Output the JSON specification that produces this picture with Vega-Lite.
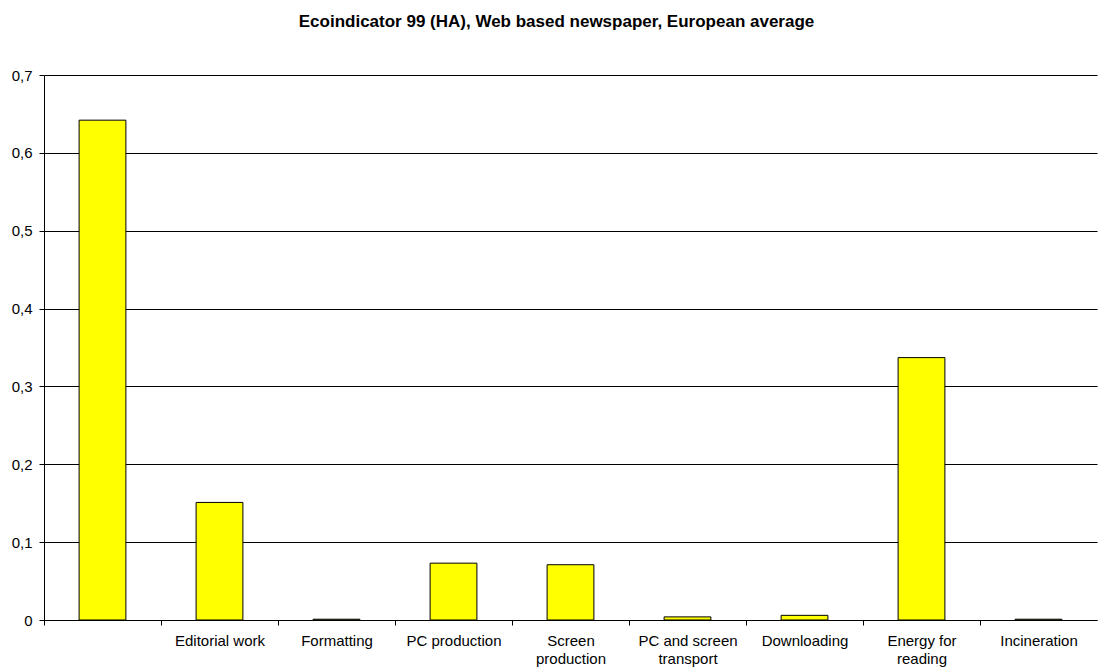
{
  "$schema": "https://vega.github.io/schema/vega-lite/v6.json",
  "autosize": "none",
  "padding": {"left": 44, "top": 75, "right": 1, "bottom": 48},
  "width": 1053,
  "height": 545,
  "background": "white",
  "title": {
    "text": "Ecoindicator 99 (HA), Web based newspaper, European average",
    "font": "Liberation Sans",
    "fontSize": 17,
    "fontWeight": "bold",
    "color": "black",
    "anchor": "middle",
    "frame": "group",
    "dx": -14,
    "offset": 37
  },
  "data": {
    "values": [
      {"stage": "", "value": 0.642},
      {"stage": "Editorial work", "value": 0.151},
      {"stage": "Formatting", "value": 0.001},
      {"stage": "PC production", "value": 0.073},
      {"stage": "Screen production", "value": 0.071},
      {"stage": "PC and screen transport", "value": 0.004},
      {"stage": "Downloading", "value": 0.006},
      {"stage": "Energy for reading", "value": 0.337},
      {"stage": "Incineration", "value": 0.001}
    ]
  },
  "mark": {"type": "bar", "color": "#FFFF00", "stroke": "black", "strokeWidth": 1},
  "encoding": {
    "x": {
      "field": "stage",
      "type": "nominal",
      "sort": null,
      "scale": {"paddingInner": 0.6, "paddingOuter": 0.3},
      "axis": {
        "title": null,
        "labelAngle": 0,
        "labelFont": "Liberation Sans",
        "labelFontSize": 15,
        "labelColor": "black",
        "labelPadding": 8,
        "labelLineHeight": 18,
        "tickOffset": -58.5,
        "labelOffset": 58.5,
        "tickColor": "black",
        "tickSize": 5,
        "domainColor": "black",
        "grid": false,
        "labelExpr": "datum.label == 'Screen production' ? ['Screen', 'production'] : datum.label == 'PC and screen transport' ? ['PC and screen', 'transport'] : datum.label == 'Energy for reading' ? ['Energy for', 'reading'] : datum.label"
      }
    },
    "y": {
      "field": "value",
      "type": "quantitative",
      "scale": {"domain": [0, 0.7], "nice": false},
      "axis": {
        "title": null,
        "values": [0, 0.1, 0.2, 0.3, 0.4, 0.5, 0.6, 0.7],
        "labelExpr": "replace(format(datum.value, '.1~f'), '.', ',')",
        "labelFont": "Liberation Sans",
        "labelFontSize": 15,
        "labelColor": "black",
        "labelPadding": 7,
        "tickColor": "black",
        "tickSize": 5,
        "domainColor": "black",
        "grid": true,
        "gridColor": "black",
        "gridOpacity": 1
      }
    }
  },
  "config": {"view": {"stroke": null}}
}
